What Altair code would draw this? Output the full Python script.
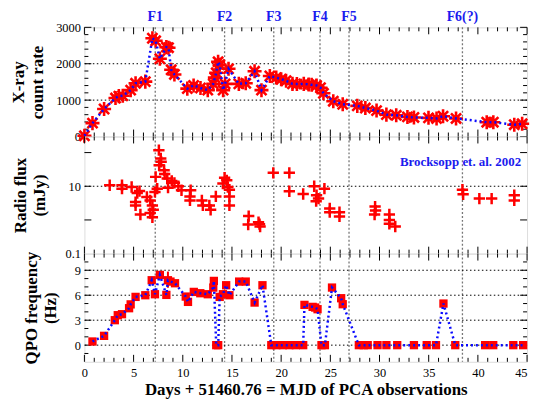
import altair as alt
import pandas as pd

# ---------------- data ----------------
xr_day = [0.0, 0.82, 2.0, 3.16, 3.5, 3.9, 4.7, 5.2, 6.19, 6.91, 7.24, 7.67, 8.33, 8.55, 8.82, 9.15,
          10.46, 11.1, 11.8, 12.54, 13.1, 13.26, 13.4, 13.59, 13.75, 14.1, 14.3, 14.65, 15.7, 16.4,
          17.3, 18.0, 18.85, 19.5, 20.0, 20.5, 21.15, 21.6, 22.3, 22.8, 23.1, 23.6, 24.0, 24.3, 25.3,
          26.26, 27.74, 28.56, 29.7, 30.7, 31.7, 32.84, 33.5, 34.98, 35.8, 36.46, 37.78, 40.9,
          41.57, 43.7, 44.5]
xr_rate = [20, 368, 756, 1057, 1110, 1120, 1275, 1463, 1508, 2700, 2630, 2137, 2456, 2440, 1834, 1705,
           1316, 1404, 1334, 1274, 1446, 1619, 1750, 2052, 1970, 1274, 1446, 1860, 1446, 1463,
           1792, 1274, 1663, 1619, 1575, 1533, 1446, 1440, 1446, 1430, 1420, 1404, 1340, 1187, 971,
           886, 842, 782, 712, 601, 583, 539, 523, 513, 497, 557, 497, 394,
           394, 324, 350]

r_day = [2.57, 3.82, 3.82, 4.8, 5.2, 5.2, 5.37, 5.6, 5.69, 6.35, 6.68, 6.91, 6.68, 6.91, 7.0, 7.17,
         7.4, 7.24, 7.57, 7.76, 7.8, 7.6, 8.1, 8.16, 8.42, 8.88, 8.5, 9.15, 9.55, 9.87, 10.8, 10.73,
         10.73, 11.94, 12.04, 12.7, 12.83, 13.36, 14.25, 14.08, 14.47, 14.58, 14.74, 14.74, 14.74,
         16.7, 16.65, 17.7, 17.86, 17.8, 19.2, 20.83, 20.83, 22.24, 23.36, 23.6, 23.56, 23.8, 24.4,
         24.94, 24.94, 25.93, 25.93, 29.55, 29.6, 29.5, 31.0, 31.0, 31.0, 31.6, 38.43, 38.5, 40.15,
         41.4, 43.7, 43.7]
r_flux = [10.7, 10.7, 8.5, 9.5, 3.4, 2.7, 6.3, 7.2, 1.45, 4.8, 3.8, 2.7, 1.6, 1.2, 2.0, 6.8,
          8.5, 19, 118, 67, 53, 42, 30, 23, 17, 14.4, 9.1, 12.6, 10, 7.6, 7.6, 5.0,
          3.8, 3.8, 2.7, 2.7, 2.0, 5.0, 18, 12, 15, 9.5, 7.9, 5.0, 2.7,
          1.3, 0.73, 0.86, 0.64, 0.75, 25, 25, 7.1, 5.9, 10, 5.4, 3.6, 4.3, 8.5,
          2.2, 1.7, 1.7, 1.27, 2.5, 1.9, 1.45, 1.45, 1.0, 0.77, 0.64, 7.9, 5.8, 4.3,
          4.3, 5.4, 3.8]

q_day = [0.82, 2.0, 3.09, 3.39, 3.82, 4.54, 4.7, 5.2, 6.19, 6.84, 7.17, 7.67, 8.33, 8.49, 8.75, 9.21,
         10.3, 10.53, 11.12, 11.78, 12.54, 13.1, 13.16, 13.4, 13.6, 13.75, 14.08, 14.41, 14.74,
         15.73, 16.4, 17.3, 18.1, 19.0, 19.5, 20.17, 20.83, 21.5, 22.24, 22.37, 23.2, 23.46, 23.7,
         24.1, 24.45, 25.17, 26.1, 26.26, 27.9, 28.4, 28.8, 29.8, 30.7, 31.8, 33.5, 34.8, 35.74,
         36.5, 37.7, 40.74, 41.56, 43.6, 44.6]
q_freq = [0.44, 1.12, 3.0, 3.6, 3.72, 4.44, 4.9, 5.8, 6.0, 7.8, 6.12, 8.44, 6.04, 7.8, 7.64, 7.44,
          5.84, 5.2, 6.4, 6.24, 6.12, 6.92, 7.72, 0, 0, 5.8, 6.12, 7.2, 6.0,
          7.64, 7.64, 5.12, 7.2, 0, 0, 0, 0, 0, 0, 4.84, 4.6, 4.52, 4.32,
          0, 0, 6.92, 5.64, 4.92, 0, 0, 0, 0, 0, 0, 0, 0, 0,
          5.0, 0, 0, 0, 0, 0]
q_err_day = [8.49]
q_err_lo = [6.9]
q_err_hi = [8.84]

f_day = [7.2, 14.25, 19.25, 23.95, 26.9, 38.43]
f_name = ["F1", "F2", "F3", "F4", "F5", "F6(?)"]

x_major = list(range(0, 46, 5))
x_minor = [v for v in range(0, 46) if v % 5]

# ---------------- style ----------------
W = 446
H1, H2, H3 = 110, 118, 109
SERIF = "Liberation Serif"
RED = "#ff0000"
BLUE = "#0a0aff"
STAR = "M-1,0L1,0M0,-1L0,1M-0.72,-0.72L0.72,0.72M-0.72,0.72L0.72,-0.72"
PLUS = "M-1,0L1,0M0,-1L0,1"

xs = alt.Scale(domain=[0, 45], nice=False, zero=False)

x_hidden = alt.Axis(labels=False, ticks=False, domain=False, grid=False, title=None)
x_bottom = alt.Axis(values=x_major, ticks=False, domain=False, grid=False, labelFlush=False,
                    labelAlign=alt.condition("datum.value >= 45", alt.value("right"), alt.value("center")),
                    title="Days + 51460.76 = MJD of PCA observations",
                    labelFont=SERIF, labelFontSize=12.5, labelColor="black", labelPadding=5,
                    titleFont=SERIF, titleFontSize=17, titleFontWeight="bold", titleColor="black",
                    titlePadding=2)


def yaxis(values, title, H, tx, fmt="d"):
    return alt.Axis(values=values, ticks=False, domain=False, grid=False, labelFlush=False,
                    format=fmt,
                    labelFont=SERIF, labelFontSize=12.5, labelColor="black", labelPadding=4,
                    title=title, titleFont=SERIF, titleFontSize=17, titleFontWeight="bold",
                    titleColor="black", titleX=tx, titleY=H / 2, titleBaseline="bottom",
                    titleLineHeight=19, titleAngle=270)


def panel(H, ys, yax, xax, ygrid, y_major, y_minor, data_layers):
    layers = []
    # vertical F gridlines
    layers.append(alt.Chart(pd.DataFrame({"d": f_day})).mark_rule(
        color="#777777", strokeWidth=1.3, strokeDash=[2, 2]).encode(
        x=alt.X("d:Q", scale=xs, axis=xax)))
    # horizontal gridlines
    layers.append(alt.Chart(pd.DataFrame({"g": ygrid})).mark_rule(
        color="black", strokeWidth=1, strokeDash=[1.5, 2.5]).encode(
        y=alt.Y("g:Q", scale=ys, axis=yax)))
    # x ticks (inward, top & bottom)
    for vals, L in [(x_minor, 4), (x_major, 7)]:
        base = alt.Chart(pd.DataFrame({"t": vals})).mark_rule(color="black", strokeWidth=1)
        layers.append(base.encode(x=alt.X("t:Q", scale=xs, axis=xax), y=alt.value(0), y2=alt.value(L)))
        layers.append(base.encode(x=alt.X("t:Q", scale=xs, axis=xax), y=alt.value(H), y2=alt.value(H - L)))
    # y ticks (inward, left & right)
    for vals, L in [(y_minor, 4), (y_major, 7)]:
        if not vals:
            continue
        base = alt.Chart(pd.DataFrame({"t": vals})).mark_rule(color="black", strokeWidth=1)
        layers.append(base.encode(y=alt.Y("t:Q", scale=ys, axis=yax), x=alt.value(0), x2=alt.value(L)))
        layers.append(base.encode(y=alt.Y("t:Q", scale=ys, axis=yax), x=alt.value(W), x2=alt.value(W - L)))
    layers += data_layers
    return alt.layer(*layers).properties(width=W, height=H)


# ---- panel 1: X-ray ----
ys1 = alt.Scale(domain=[0, 3000], nice=False, zero=False)
ya1 = yaxis([0, 1000, 2000, 3000], ["X-ray", "count rate"], H1, -57.5)
xr = pd.DataFrame({"d": xr_day, "c": xr_rate})
p1_data = [
    alt.Chart(xr).mark_point(shape=STAR, color=RED, strokeWidth=2.6, size=200, opacity=1).encode(
        x=alt.X("d:Q", scale=xs, axis=x_hidden), y=alt.Y("c:Q", scale=ys1, axis=ya1)),
    alt.Chart(xr).mark_line(color=BLUE, strokeWidth=2.5, strokeDash=[2, 3]).encode(
        x=alt.X("d:Q", scale=xs, axis=x_hidden), y=alt.Y("c:Q", scale=ys1, axis=ya1)),
    alt.Chart(pd.DataFrame({"d": f_day, "n": f_name})).mark_text(
        font=SERIF, fontSize=14, fontWeight="bold", color="#1a1aee", baseline="alphabetic").encode(
        x=alt.X("d:Q", scale=xs, axis=x_hidden), y=alt.value(-6), text="n:N"),
]
p1 = panel(H1, ys1, ya1, x_hidden, [1000, 2000],
           [0, 1000, 2000, 3000], [v for v in range(0, 3001, 200) if v % 1000], p1_data)

# ---- panel 2: radio ----
ys2 = alt.Scale(type="log", domain=[0.1, 300], nice=False)
ya2 = yaxis([0.1, 10], ["Radio flux", "(mJy)"], H2, -55.5, fmt="~g")
rd = pd.DataFrame({"d": r_day, "f": r_flux})
p2_data = [
    alt.Chart(rd).mark_point(shape=PLUS, color=RED, strokeWidth=2.5, size=130, opacity=1).encode(
        x=alt.X("d:Q", scale=xs, axis=x_hidden), y=alt.Y("f:Q", scale=ys2, axis=ya2)),
    alt.Chart(pd.DataFrame({"t": ["Brocksopp et. al. 2002"]})).mark_text(
        font=SERIF, fontSize=13, fontWeight="bold", color="#1a1aee", align="right", baseline="middle").encode(
        x=alt.value(W - 6), y=alt.value(26), text="t:N"),
]
p2 = panel(H2, ys2, ya2, x_hidden, [10], [1, 10, 100], [], p2_data)

# ---- panel 3: QPO ----
ys3 = alt.Scale(domain=[-2, 11], nice=False, zero=False)
ya3 = yaxis([0, 3, 6, 9], ["QPO frequency", "(Hz)"], H3, -44)
qd = pd.DataFrame({"d": q_day, "f": q_freq})
qe = pd.DataFrame({"d": q_err_day, "lo": q_err_lo, "hi": q_err_hi})
p3_data = [
    alt.Chart(qe).mark_rule(color=RED, strokeWidth=2).encode(
        x=alt.X("d:Q", scale=xs, axis=x_bottom), y=alt.Y("lo:Q", scale=ys3, axis=ya3), y2="hi:Q"),
    alt.Chart(qd).mark_point(shape="square", color=RED, filled=True, size=70, opacity=1).encode(
        x=alt.X("d:Q", scale=xs, axis=x_bottom), y=alt.Y("f:Q", scale=ys3, axis=ya3)),
    alt.Chart(qd).mark_line(color=BLUE, strokeWidth=2.5, strokeDash=[2, 3]).encode(
        x=alt.X("d:Q", scale=xs, axis=x_bottom), y=alt.Y("f:Q", scale=ys3, axis=ya3)),
]
p3 = panel(H3, ys3, ya3, x_bottom, [0, 3, 6, 9], [0, 3, 6, 9],
           [v for v in range(-1, 11) if v % 3], p3_data)

chart = alt.vconcat(p1, p2, p3, spacing=0, bounds="flush").properties(
    padding={"left": 1, "top": 0, "right": 0, "bottom": 0}
).configure_view(stroke="black", strokeWidth=2).configure(background="white")

chart.save("out.html", embed_options={"renderer": "svg", "actions": False})
